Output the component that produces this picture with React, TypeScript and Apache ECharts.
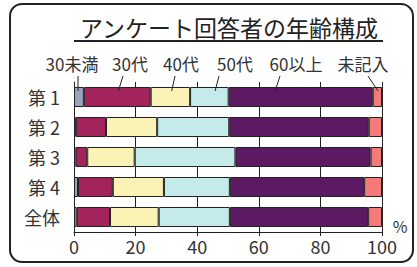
import React, { useEffect, useRef } from "react";
import * as echarts from "echarts";

const categories = ["第 1", "第 2", "第 3", "第 4", "全体"];
const seriesNames = ["30未満", "30代", "40代", "50代", "60以上", "未記入"];
const under30 = [3.2, 0.6, 0.5, 1.3, 0.9];
const age30s = [21.7, 9.8, 3.8, 11.3, 10.8];
const age40s = [12.8, 16.6, 15.4, 16.6, 15.8];
const age50s = [12.5, 23.4, 32.7, 21.4, 23.1];
const over60 = [46.8, 45.3, 43.9, 43.6, 44.9];
const unknown = [3.0, 4.3, 3.7, 5.8, 4.5];
const xTicks = [0, 20, 40, 60, 80, 100];
const titleText = "アンケート回答者の年齢構成";
// label centre x and leader start x (px, layout) and anchor value (%) in first bar
const labelX = [72, 130, 181, 235, 296, 363];
const leaderStartX = [78, 123, 175, 219, 280, 368];
const anchorValues = [1.3, 14.4, 31.7, 45.8, 65.3, 98.7];

const colors = ["#9ba3bf", "#a3245a", "#fbf2b6", "#c4ebea", "#5b1a62", "#f47a7a"];
const FONT = "'Noto Sans CJK JP', 'Noto Sans', sans-serif";

export default function App() {
  const ref = useRef<HTMLDivElement>(null);
  useEffect(() => {
    if (!ref.current) return;
    const chart = echarts.init(ref.current, undefined, { renderer: "svg" });
    const values = [under30, age30s, age40s, age50s, over60, unknown];
    chart.setOption({
      animation: false,
      backgroundColor: "#ffffff",
      grid: { left: 74, right: 35, top: 82, bottom: 35 },
      xAxis: {
        type: "value",
        min: xTicks[0],
        max: xTicks[xTicks.length - 1],
        interval: 20,
        axisLine: { show: true, lineStyle: { color: "#222", width: 1 } },
        axisTick: { show: true, length: 4, lineStyle: { color: "#222" } },
        splitLine: { show: true, lineStyle: { color: "#222", width: 1 } },
        axisLabel: { color: "#333", fontSize: 18, fontFamily: FONT, margin: 5 },
      },
      yAxis: {
        type: "category",
        data: categories,
        inverse: true,
        axisLine: { show: true, lineStyle: { color: "#222", width: 1 } },
        axisTick: { show: false },
        axisLabel: { color: "#333", fontSize: 18, fontFamily: FONT, margin: 14 },
      },
      series: seriesNames.map((name, i) => ({
        name,
        type: "bar",
        stack: "total",
        barWidth: 20,
        data: values[i],
        itemStyle: { color: colors[i], borderColor: "#222", borderWidth: 1 },
      })),
    });

    const graphics: any[] = [
      {
        type: "rect",
        shape: { x: 10, y: 4, width: 403, height: 258, r: 12 },
        style: { fill: "none", stroke: "#222", lineWidth: 2 },
        z: 10,
      },
      {
        type: "text",
        x: 229,
        y: 27,
        style: {
          text: titleText,
          fontSize: 23,
          fontFamily: FONT,
          fill: "#222",
          align: "center",
          verticalAlign: "middle",
        },
      },
      {
        type: "line",
        shape: { x1: 74, y1: 41, x2: 383, y2: 41 },
        style: { stroke: "#222", lineWidth: 2 },
      },
      {
        type: "text",
        x: 400,
        y: 226,
        style: {
          text: "%",
          fontSize: 16,
          fontFamily: FONT,
          fill: "#333",
          align: "center",
          verticalAlign: "middle",
        },
      },
    ];
    seriesNames.forEach((name, i) => {
      const p = chart.convertToPixel({ gridIndex: 0 }, [anchorValues[i], categories[0]]) as number[];
      graphics.push({
        type: "text",
        x: labelX[i],
        y: 63,
        style: {
          text: name,
          fontSize: 17,
          fontFamily: FONT,
          fill: "#333",
          align: "center",
          verticalAlign: "middle",
        },
      });
      graphics.push({
        type: "line",
        shape: { x1: leaderStartX[i], y1: 76, x2: p[0], y2: p[1] - 6 },
        style: { stroke: "#222", lineWidth: 1 },
        z: 20,
      });
    });
    chart.setOption({ graphic: graphics });
    return () => chart.dispose();
  }, []);
  return (
    <div
      ref={ref}
      style={{ position: "absolute", left: 0, top: 0, width: 417, height: 267 }}
    />
  );
}
